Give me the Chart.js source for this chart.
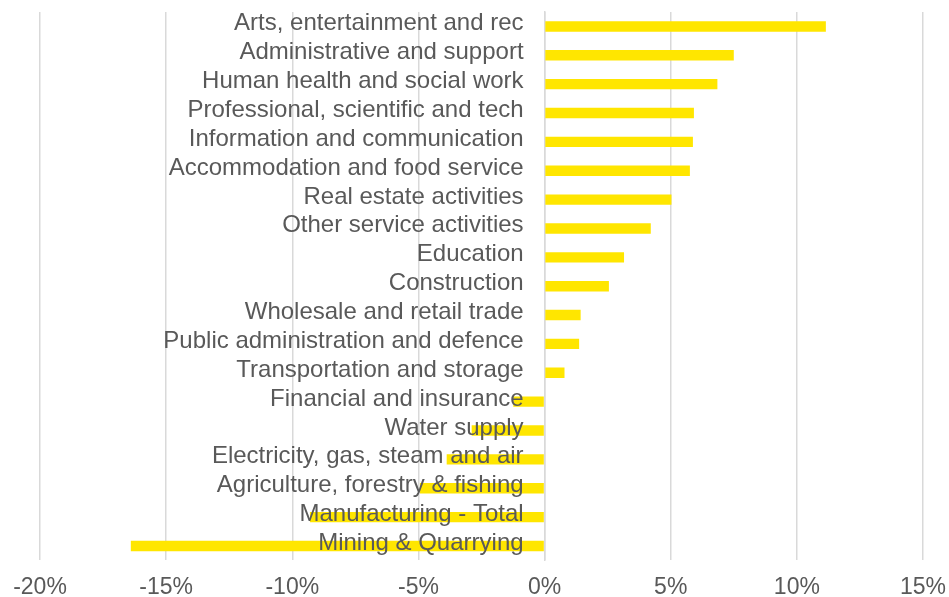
<!DOCTYPE html>
<html>
<head>
<meta charset="utf-8">
<script src="https://cdn.jsdelivr.net/npm/chart.js@4/dist/chart.umd.min.js"></script>
<style>
  html, body { margin: 0; padding: 0; background: #ffffff; }
  #wrap { width: 949px; height: 597px; }
</style>
</head>
<body>
<div id="wrap"><canvas id="chart" width="949" height="597"></canvas></div>
<script>
// Industry sectors, top to bottom
const sectors = [
  "Arts, entertainment and rec",
  "Administrative and support",
  "Human health and social work",
  "Professional, scientific and tech",
  "Information and communication",
  "Accommodation and food service",
  "Real estate activities",
  "Other service activities",
  "Education",
  "Construction",
  "Wholesale and retail trade",
  "Public administration and defence",
  "Transportation and storage",
  "Financial and insurance",
  "Water supply",
  "Electricity, gas, steam and air",
  "Agriculture, forestry & fishing",
  "Manufacturing - Total",
  "Mining & Quarrying"
];

// Percentage change per sector
const changePct = [
  11.15, 7.5, 6.85, 5.92, 5.88, 5.76, 5.03, 4.21, 3.15, 2.55,
  1.43, 1.37, 0.79, -1.24, -2.89, -3.88, -4.94, -9.3, -16.4
];

// Value axis range and step
const axisMin = -20;
const axisMax = 15;
const axisStep = 5;

const textColor = "#595959";
const gridColor = "#d9d9d9";
const barColor = "#FFE600";
const fontFamily = "Liberation Sans, Arial, sans-serif";

// Sector names sit just left of the zero line, on top of the bars
const zeroAxisLabels = {
  id: "zeroAxisLabels",
  afterDatasetsDraw(chart) {
    const { ctx, scales: { x, y } } = chart;
    const x0 = x.getPixelForValue(0) - 21;
    ctx.save();
    ctx.font = "24px " + fontFamily;
    ctx.fillStyle = textColor;
    ctx.textAlign = "right";
    ctx.textBaseline = "alphabetic";
    chart.data.labels.forEach((label, i) => {
      ctx.fillText(label, x0, y.getPixelForTick(i) + 4);
    });
    ctx.restore();
  }
};

new Chart(document.getElementById("chart"), {
  type: "bar",
  data: {
    labels: sectors,
    datasets: [{
      data: changePct,
      backgroundColor: barColor,
      borderWidth: 0,
      categoryPercentage: 1,
      barPercentage: 0.36
    }]
  },
  options: {
    indexAxis: "y",
    responsive: false,
    animation: false,
    layout: { padding: { left: 40, right: 26, top: 12, bottom: -17 } },
    plugins: {
      legend: { display: false },
      tooltip: { enabled: false }
    },
    scales: {
      x: {
        min: axisMin,
        max: axisMax,
        grid: { color: gridColor, lineWidth: 1.5, drawTicks: false },
        border: { display: false },
        ticks: {
          stepSize: axisStep,
          padding: 13,
          color: textColor,
          font: { family: fontFamily, size: 23 },
          callback: v => v + "%"
        },
        afterFit(scale) {
          scale.paddingLeft = 0;
          scale.paddingRight = 0;
        }
      },
      y: {
        position: { x: 0 },
        grid: { display: false, drawTicks: false },
        border: { display: true, color: gridColor, width: 1.5 },
        ticks: { display: false }
      }
    }
  },
  plugins: [zeroAxisLabels]
});
</script>
</body>
</html>
